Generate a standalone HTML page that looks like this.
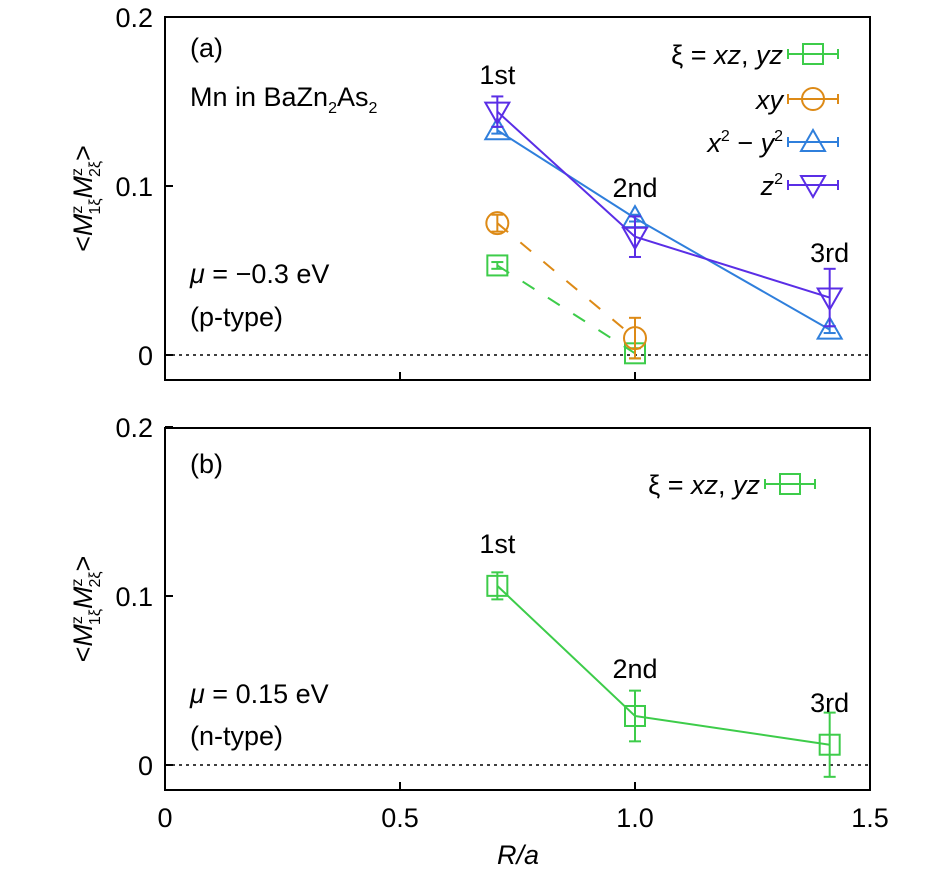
<!DOCTYPE html>
<html><head><meta charset="utf-8"><style>
html,body{margin:0;padding:0;background:#fff;}
svg{display:block;font-family:"Liberation Sans",sans-serif;}
</style></head><body>
<svg id="chart" width="945" height="869" viewBox="0 0 945 869" xmlns="http://www.w3.org/2000/svg"></svg>
<script>
const xCategories = [0.7071, 1.0, 1.4142];
const shellLabels = ["1st", "2nd", "3rd"];
const xTicks = [0, 0.5, 1.0, 1.5];
const xTickLabels = ["0", "0.5", "1.0", "1.5"];
const yTicks = [0, 0.1, 0.2];
const yTickLabels = ["0", "0.1", "0.2"];
// panel (a)
const aXzX = [0.7071, 1.0];
const aXzVals = [0.053, 0.001];
const aXzErr = [0.002, 0.003];
const aXyX = [0.7071, 1.0];
const aXyVals = [0.078, 0.010];
const aXyErr = [0.005, 0.012];
const aX2X = [0.7071, 1.0, 1.4142];
const aX2Vals = [0.133, 0.081, 0.015];
const aX2Err = [0.002, 0.002, 0.002];
const aZ2X = [0.7071, 1.0, 1.4142];
const aZ2Vals = [0.144, 0.070, 0.034];
const aZ2Err = [0.009, 0.012, 0.017];
// panel (b)
const bXzX = [0.7071, 1.0, 1.4142];
const bXzVals = [0.106, 0.029, 0.012];
const bXzErr = [0.008, 0.015, 0.019];

const NS = "http://www.w3.org/2000/svg";
const svg = document.getElementById("chart");
const X0 = 165, X1 = 870;
const xs = v => X0 + (v / 1.5) * (X1 - X0);
function mk(tag, attrs, parent, text) {
  const e = document.createElementNS(NS, tag);
  for (const k in attrs) e.setAttribute(k, attrs[k]);
  if (text !== undefined) e.textContent = text;
  (parent || svg).appendChild(e);
  return e;
}
const GREEN = "#3dcc4a", ORANGE = "#dd8a16", BLUE = "#2f7fdc", PURPLE = "#5a2ee6";

function marker(g, type, x, y, color) {
  let e;
  if (type === "sq") e = mk("rect", {x: x - 10, y: y - 10, width: 20, height: 20, fill: "none", stroke: color, "stroke-width": 2}, g);
  else if (type === "ci") e = mk("circle", {cx: x, cy: y, r: 11, fill: "none", stroke: color, "stroke-width": 2}, g);
  else if (type === "up") e = mk("polygon", {points: `${x},${y-12} ${x-12},${y+9} ${x+12},${y+9}`, fill: "none", stroke: color, "stroke-width": 2}, g);
  else e = mk("polygon", {points: `${x},${y+12} ${x-12},${y-9} ${x+12},${y-9}`, fill: "none", stroke: color, "stroke-width": 2}, g);
  
  
}

function panel(top, bottom, yZero, yTen, name) {
  const ys = v => yZero - v * (yZero - yTen) / 0.1;
  const g = mk("g", {});
  
  
  const z = mk("line", {x1: X0, x2: X1, y1: ys(0), y2: ys(0), stroke: "#000", "stroke-width": 1.5, "stroke-dasharray": "3,4"}, g);
  
  
  const f = mk("rect", {x: X0, y: top, width: X1 - X0, height: bottom - top, fill: "none", stroke: "#000", "stroke-width": 2}, g);
  
  
  yTicks.forEach((t, i) => {
    const y = ys(t);
    mk("line", {x1: X0, x2: X0 + 8, y1: y, y2: y, stroke: "#000", "stroke-width": 2}, g);
    const tl = mk("text", {x: X0 - 12, y: y + 10, "text-anchor": "end", "font-size": 27}, g, yTickLabels[i]);
    
    
  });
  xTicks.forEach(t => {
    mk("line", {x1: xs(t), x2: xs(t), y1: bottom, y2: bottom - 8, stroke: "#000", "stroke-width": 2}, g);
  });
  const yt = mk("text", {transform: `translate(92,${(top + bottom) / 2}) rotate(-90)`, "text-anchor": "middle", "font-size": 27}, g);
  
  
  yt.innerHTML = '&lt;<tspan font-style="italic">M</tspan><tspan font-size="16" dy="-10">z</tspan><tspan font-size="16" dy="18" dx="-9">1ξ</tspan><tspan font-style="italic" dy="-8">M</tspan><tspan font-size="16" dy="-10">z</tspan><tspan font-size="16" dy="18" dx="-9">2ξ</tspan><tspan dy="-8">&gt;</tspan>';
  return {g, ys};
}

function series(p, xArr, vals, errs, type, color, dashed, name) {
  const g = mk("g", {}, p.g);
  
  
  const pts = xArr.map((x, i) => [xs(x), p.ys(vals[i])]);
  if (dashed) {
    for (let i = 0; i < pts.length - 1; i++) {
      const [a, b] = [pts[i], pts[i + 1]];
      mk("line", {x1: a[0], y1: a[1], x2: b[0], y2: b[1], stroke: color, "stroke-width": 2, "stroke-dasharray": "14,16"}, g);
    }
  } else {
    mk("polyline", {points: pts.map(q => q.join(",")).join(" "), fill: "none", stroke: color, "stroke-width": 2}, g);
  }
  pts.forEach((q, i) => {
    const y1 = p.ys(vals[i] + errs[i]), y2 = p.ys(vals[i] - errs[i]);
    mk("line", {x1: q[0], x2: q[0], y1: y1, y2: y2, stroke: color, "stroke-width": 2}, g);
    mk("line", {x1: q[0] - 6, x2: q[0] + 6, y1: y1, y2: y1, stroke: color, "stroke-width": 2}, g);
    mk("line", {x1: q[0] - 6, x2: q[0] + 6, y1: y2, y2: y2, stroke: color, "stroke-width": 2}, g);
    marker(g, type, q[0], q[1], color);
  });
}

function legend(p, y, xText, html, type, color) {
  const g = mk("g", {}, p.g);
  
  
  const t = mk("text", {x: xText, y: y + 10, "text-anchor": "end", "font-size": 27}, g);
  t.innerHTML = html;
  const sx = xText + 5;
  mk("line", {x1: sx, x2: sx + 50, y1: y, y2: y, stroke: color, "stroke-width": 2}, g);
  mk("line", {x1: sx, x2: sx, y1: y - 5, y2: y + 5, stroke: color, "stroke-width": 2}, g);
  mk("line", {x1: sx + 50, x2: sx + 50, y1: y - 5, y2: y + 5, stroke: color, "stroke-width": 2}, g);
  marker(g, type, sx + 25, y, color);
}

function label(p, x, y, txt, name, anchor) {
  const t = mk("text", {x: x, y: y, "font-size": 27, "text-anchor": anchor || "start"}, p.g);
  
  
  t.innerHTML = txt;
}

// Panel a
const pa = panel(17, 380, 355, 186, "panel-a");
series(pa, aXzX, aXzVals, aXzErr, "sq", GREEN, true, "series-xz-yz");
series(pa, aXyX, aXyVals, aXyErr, "ci", ORANGE, true, "series-xy");
series(pa, aX2X, aX2Vals, aX2Err, "up", BLUE, false, "series-x2-y2");
series(pa, aZ2X, aZ2Vals, aZ2Err, "dn", PURPLE, false, "series-z2");
legend(pa, 54, 783, 'ξ = <tspan font-style="italic">xz</tspan>, <tspan font-style="italic">yz</tspan>', "sq", GREEN);
legend(pa, 99, 783, '<tspan font-style="italic">xy</tspan>', "ci", ORANGE);
legend(pa, 142, 783, '<tspan font-style="italic">x</tspan><tspan font-size="16" dy="-11">2</tspan><tspan dy="11"> − </tspan><tspan font-style="italic">y</tspan><tspan font-size="16" dy="-11">2</tspan>', "up", BLUE);
legend(pa, 185, 783, '<tspan font-style="italic">z</tspan><tspan font-size="16" dy="-11">2</tspan>', "dn", PURPLE);
label(pa, 190, 57, "(a)", "panel-label-a");
label(pa, 190, 106, 'Mn in BaZn<tspan font-size="16" dy="7">2</tspan><tspan dy="-7">As</tspan><tspan font-size="16" dy="7">2</tspan>', "material-label");
label(pa, 190, 283, '<tspan font-style="italic">μ</tspan> = −0.3 eV', "mu-label-a");
label(pa, 190, 326, "(p-type)", "type-label-a");
[[0, 84], [1, 197], [2, 262]].forEach(([i, y]) => label(pa, xs(xCategories[i]), y, shellLabels[i], "shell-label", "middle"));

// Panel b
const pb = panel(428, 790, 765, 596, "panel-b");
series(pb, bXzX, bXzVals, bXzErr, "sq", GREEN, false, "series-xz-yz-b");
legend(pb, 484, 760, 'ξ = <tspan font-style="italic">xz</tspan>, <tspan font-style="italic">yz</tspan>', "sq", GREEN);
label(pb, 190, 473, "(b)", "panel-label-b");
label(pb, 190, 703, '<tspan font-style="italic">μ</tspan> = 0.15 eV', "mu-label-b");
label(pb, 190, 745, "(n-type)", "type-label-b");
[[0, 553], [1, 678], [2, 712]].forEach(([i, y]) => label(pb, xs(xCategories[i]), y, shellLabels[i], "shell-label", "middle"));

xTicks.forEach((t, i) => {
  const e = mk("text", {x: xs(t), y: 827, "text-anchor": "middle", "font-size": 27}, svg, xTickLabels[i]);
  
  
});
const xt = mk("text", {x: 518, y: 864, "text-anchor": "middle", "font-size": 27, "font-style": "italic"}, svg, "R/a");


</script>
</body></html>
